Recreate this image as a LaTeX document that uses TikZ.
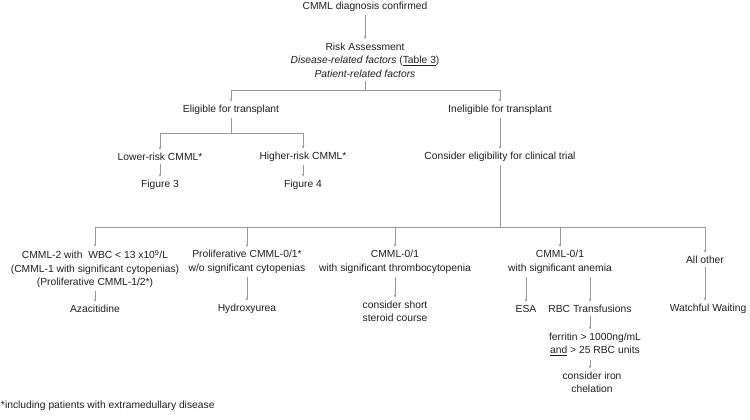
\documentclass[tikz,border=0pt]{standalone}
\usepackage{fontspec}
\setmainfont{Liberation Sans}
\usetikzlibrary{arrows.meta}
\definecolor{linegray}{gray}{0.6}
\definecolor{txtgray}{gray}{0.12}

\begin{document}
\begin{tikzpicture}[x=1pt, y=-1pt,
	box/.style={align=center, font=\fontsize{10.3}{13.5}\selectfont, text=txtgray, inner sep=1pt, outer sep=2.5pt},
	link/.style={draw=linegray, line width=.6pt},
	arr/.style={link, -{Stealth[length=3pt, width=2.6pt]}}]
	\useasboundingbox (0,0) rectangle (750,420);
	% top part
	\node[box] (diag) at (365,7) {CMML diagnosis confirmed};
	\node[box] (risk) at (365,60) {Risk Assessment\\\textit{Disease-related factors} (\underline{Table 3})\\\textit{Patient-related factors}};
	\node[box] (elig) at (231,110) {Eligible for transplant};
	\node[box] (inel) at (500,110) {Ineligible for transplant};
	\node[box] (low) at (160,157) {Lower-risk CMML*};
	\node[box] (high) at (303,157) {Higher-risk CMML*};
	\node[box] (fig3) at (160,185) {Figure 3};
	\node[box] (fig4) at (303,185) {Figure 4};
	\node[box] (trial) at (500,157) {Consider eligibility for clinical trial};
	% treatment columns
	\node[box] (cmml2) at (95,269) {CMML-2 with \ WBC < 13 x10\textsuperscript{9}/L\\(CMML-1 with significant cytopenias)\\(Proliferative CMML-1/2*)};
	\node[box] (aza) at (95,309) {Azacitidine};
	\node[box] (prolif) at (247,262) {Proliferative CMML-0/1*\\w/o significant cytopenias};
	\node[box] (hydro) at (247,309) {Hydroxyurea};
	\node[box] (thromb) at (395,262) {CMML-0/1\\with significant thrombocytopenia};
	\node[box] (steroid) at (395,311.5) {consider short\\steroid course};
	\node[box] (anemia) at (560,262) {CMML-0/1\\with significant anemia};
	\node[box] (esa) at (526,309) {ESA};
	\node[box] (rbc) at (590,309) {RBC Transfusions};
	\node[box] (ferr) at (595,344.5) {ferritin > 1000ng/mL\\\underline{and} > 25 RBC units};
	\node[box] (iron) at (592,382.5) {consider iron\\chelation};
	\node[box] (other) at (705,260) {All other};
	\node[box] (watch) at (708,309) {Watchful Waiting};
	\node[box, anchor=west, outer sep=0pt] (note) at (0,406) {*including patients with extramedullary disease};
	% junctions
	\coordinate (busA) at (365,90);
	\coordinate (busB) at (231,133);
	\coordinate (busC) at (500,227);
	% connectors
	\draw[arr] (diag) -- (risk);
	\draw[link] (risk) -- (busA);
	\draw[link] (elig |- busA) -- (inel |- busA);
	\draw[arr] (elig |- busA) -- (elig);
	\draw[arr] (inel |- busA) -- (inel);
	\draw[link] (elig) -- (busB);
	\draw[link] (low |- busB) -- (high |- busB);
	\draw[arr] (low |- busB) -- (low);
	\draw[arr] (high |- busB) -- (high);
	\draw[arr] (low) -- (fig3);
	\draw[arr] (high) -- (fig4);
	\draw[arr] (inel) -- (trial);
	\draw[link] (trial) -- (busC);
	\draw[link] (cmml2 |- busC) -- (other |- busC);
	\foreach \col in {cmml2, prolif, thromb, anemia, other}
		\draw[arr] (\col |- busC) -- (\col);
	\draw[arr] (cmml2) -- (aza);
	\draw[arr] (prolif) -- (hydro);
	\draw[arr] (thromb) -- (steroid);
	\draw[arr] (esa |- anemia.south) -- (esa);
	\draw[arr] (rbc |- anemia.south) -- (rbc);
	\draw[arr] (rbc) -- (rbc |- ferr.north);
	\draw[arr] (rbc |- ferr.south) -- (rbc |- iron.north);
	\draw[arr] (other) -- (other |- watch.north);
\end{tikzpicture}
\end{document}
